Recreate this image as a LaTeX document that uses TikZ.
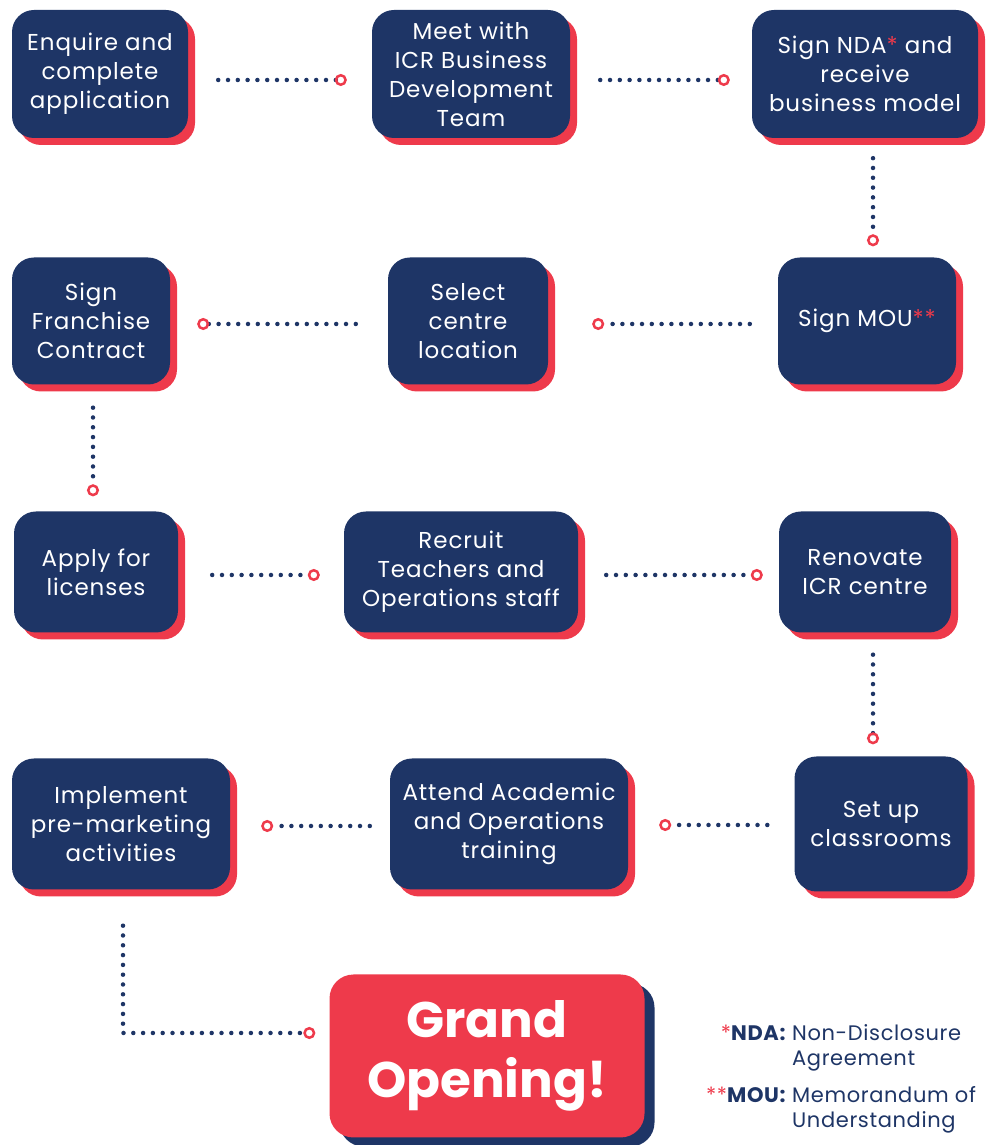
\documentclass[tikz,border=0pt]{standalone}
\usepackage{fontspec}
\setmainfont{Poppins}
\usetikzlibrary{arrows.meta,shadows}

\definecolor{icrnavy}{HTML}{1E3566}
\definecolor{icrred}{HTML}{EE3A4B}

\tikzset{
  stepbox/.style={fill=icrnavy, text=white, rounded corners=22pt, align=center,
    inner sep=0pt, font=\addfontfeatures{LetterSpace=4}\fontsize{23}{29}\selectfont,
    drop shadow={shadow xshift=7pt, shadow yshift=-7pt, fill=icrred, opacity=1}},
  openbox/.style={fill=icrred, text=white, rounded corners=24pt, align=center,
    inner sep=0pt, font=\bfseries\fontsize{50}{60}\selectfont,
    drop shadow={shadow xshift=10pt, shadow yshift=-9pt, fill=icrnavy, opacity=1}},
  link/.style={icrnavy, line width=4.5pt, line cap=round, dash pattern=on 0pt off 9.8pt,
    -{Circle[open, length=12pt, width=12pt, line width=2.5pt, color=icrred]}},
}

\begin{document}
\begin{tikzpicture}[x=1pt, y=1pt]

    \useasboundingbox (0,0) rectangle (986,1145);

    % Row 1
    \node[stepbox, minimum width=176pt, minimum height=128pt] (enquire) at (100,1071) {Enquire and\\complete\\application};
    \node[stepbox, minimum width=198pt, minimum height=128pt] (meet) at (471,1071) {Meet with\\ICR Business\\Development\\Team};
    \node[stepbox, minimum width=226pt, minimum height=128pt] (nda) at (865,1071) {Sign NDA\textcolor{icrred}{*} and\\receive\\business model};

    % Row 2
    \node[stepbox, minimum width=158pt, minimum height=127pt] (franchise) at (91,824) {Sign\\Franchise\\Contract};
    \node[stepbox, minimum width=160pt, minimum height=127pt] (location) at (468,824) {Select\\centre\\location};
    \node[stepbox, minimum width=178pt, minimum height=127pt] (mou) at (867,824) {Sign MOU\textcolor{icrred}{**}};

    % Row 3
    \node[stepbox, minimum width=164pt, minimum height=121pt] (licenses) at (96,573) {Apply for\\licenses};
    \node[stepbox, minimum width=234pt, minimum height=121pt] (recruit) at (461,573) {Recruit\\Teachers and\\Operations staff};
    \node[stepbox, minimum width=172pt, minimum height=121pt] (renovate) at (865,573) {Renovate\\ICR centre};

    % Row 4
    \node[stepbox, minimum width=218pt, minimum height=131pt] (marketing) at (121,321) {Implement\\pre-marketing\\activities};
    \node[stepbox, minimum width=238pt, minimum height=131pt] (training) at (509,321) {Attend Academic\\and Operations\\training};
    \node[stepbox, minimum width=173pt, minimum height=135pt] (classrooms) at (881,321) {Set up\\classrooms};

    % Grand Opening
    \node[openbox, minimum width=315pt, minimum height=163pt] (opening) at (487,89) {Grand\\Opening!};

    % Legend
    \node[text=icrnavy, inner sep=0pt, font=\addfontfeatures{LetterSpace=3}\fontsize{21}{25}\selectfont] (legend) at (841,66) {%
      \begin{tabular}{@{}r@{\hspace{6pt}}l@{}}
        \textcolor{icrred}{*}\textbf{NDA:} & Non-Disclosure\\
        & Agreement\\[12pt]
        \textcolor{icrred}{**}\textbf{MOU:} & Memorandum of\\
        & Understanding
      \end{tabular}};

    % Connectors
    \draw[link] ([xshift=30pt,yshift=-6pt]enquire.east) -- ([xshift=-25pt,yshift=-6pt]meet.west);
    \draw[link] ([xshift=30pt,yshift=-6pt]meet.east) -- ([xshift=-22pt,yshift=-6pt]nda.west);
    \draw[link] ([xshift=8pt,yshift=-20pt]nda.south) -- ([xshift=6pt,yshift=11pt]mou.north);
    \draw[link] ([xshift=-28pt,yshift=-3pt]mou.west) -- ([xshift=44pt,yshift=-3pt]location.east);
    \draw[link] ([xshift=-32pt,yshift=-3pt]location.west) -- ([xshift=27pt,yshift=-3pt]franchise.east);
    \draw[link] ([xshift=2pt,yshift=-23pt]franchise.south) -- ([xshift=-3pt,yshift=15pt]licenses.north);
    \draw[link] ([xshift=34pt,yshift=-3pt]licenses.east) -- ([xshift=-24pt,yshift=-3pt]recruit.west);
    \draw[link] ([xshift=28pt,yshift=-3pt]recruit.east) -- ([xshift=-16pt,yshift=-3pt]renovate.west);
    \draw[link] ([xshift=8pt,yshift=-22pt]renovate.south) -- ([xshift=-8pt,yshift=12pt]classrooms.north);
    \draw[link] ([xshift=-27pt,yshift=-1pt]classrooms.west) -- ([xshift=31pt,yshift=-1pt]training.east);
    \draw[link] ([xshift=-20pt,yshift=-2pt]training.west) -- ([xshift=31pt,yshift=-2pt]marketing.east);
    \draw[link] ([xshift=2pt,yshift=-36pt]marketing.south) |- ([xshift=-14pt,yshift=23pt]opening.west);

\end{tikzpicture}
\end{document}
